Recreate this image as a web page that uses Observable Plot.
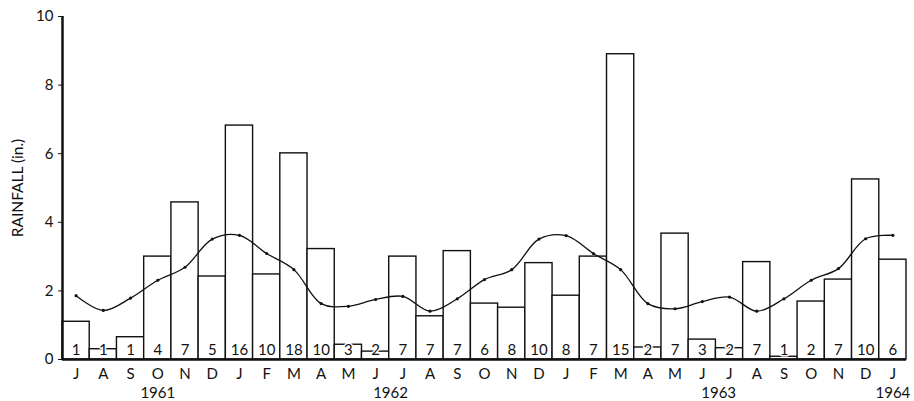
<!DOCTYPE html>
<html>
<head>
<meta charset="utf-8">
<script src="https://cdn.jsdelivr.net/npm/d3@7"></script>
<script src="https://cdn.jsdelivr.net/npm/@observablehq/plot@0.6"></script>
<style>
  html, body { margin: 0; padding: 0; background: #fff; }
  #chart svg { display: block; }
</style>
</head>
<body>
<div id="chart"></div>
<script>
// Months July 1961 – January 1964
const months = ["J","A","S","O","N","D","J","F","M","A","M","J","J","A","S","O","N","D","J","F","M","A","M","J","J","A","S","O","N","D","J"];
// Monthly rainfall (in.)
const rainfall = [1.1,0.3,0.65,3.0,4.58,2.42,6.82,2.48,6.01,3.22,0.43,0.23,3.0,1.26,3.16,1.63,1.51,2.81,1.86,3.0,8.9,0.35,3.67,0.58,0.33,2.84,0.08,1.69,2.33,5.25,2.91];
// Number of rain days
const rainDays = [1,1,1,4,7,5,16,10,18,10,3,2,7,7,7,6,8,10,8,7,15,2,7,3,2,7,1,2,7,10,6];
// Long-term mean monthly rainfall (in.)
const meanRain = [1.86,1.43,1.79,2.31,2.69,3.51,3.62,3.09,2.62,1.63,1.55,1.75,1.84,1.41,1.77,2.33,2.62,3.51,3.61,3.09,2.62,1.63,1.48,1.69,1.82,1.41,1.77,2.31,2.65,3.52,3.62];
// Year labels (position in month units)
const yearLabels = [
  {year: "1961", pos: 3.5},
  {year: "1962", pos: 12.05},
  {year: "1963", pos: 24.1},
  {year: "1964", pos: 30.5}
];
const yTicks = [0,2,4,6,8,10];
const yLabel = "RAINFALL (in.)";

const data = months.map((m, i) => ({i, m, rain: rainfall[i], days: rainDays[i], mean: meanRain[i]}));

const font = "Lato, 'DejaVu Sans', sans-serif";

const chart = Plot.plot({
  width: 914,
  height: 401,
  marginLeft: 62,
  marginRight: 8,
  marginTop: 16,
  marginBottom: 42,
  style: {fontFamily: font, fontSize: "14px", color: "#111", background: "#fff"},
  x: {type: "linear", domain: [0, 31]},
  y: {domain: [0, 10]},
  marks: [
    Plot.rectY(data, {x1: d => d.i, x2: d => d.i + 1, y: "rain", fill: "white", stroke: "#111", strokeWidth: 1.4}),
    Plot.text(data, {x: d => d.i + 0.5, y: 0, text: d => String(d.days), dy: -9, fontSize: 15, fill: "#111", stroke: "white", strokeWidth: 3, paintOrder: "stroke"}),
    Plot.line(data, {x: d => d.i + 0.5, y: "mean", curve: "catmull-rom", stroke: "#111", strokeWidth: 1.3}),
    Plot.dot(data, {x: d => d.i + 0.5, y: "mean", r: 1.6, fill: "#111", stroke: "none"}),
    Plot.ruleY([0], {stroke: "#111", strokeWidth: 2.5}),
    Plot.ruleX([0], {stroke: "#111", strokeWidth: 2.5}),
    Plot.axisY({ticks: yTicks, tickSize: 4, tickPadding: 5, fontSize: 15, label: null}),
    Plot.text([yLabel], {frameAnchor: "left", textAnchor: "middle", text: d => d, rotate: -90, dx: -44, fontSize: 15.5, fill: "#111", letterSpacing: "0.5px"}),
    Plot.axisX({ticks: data.map(d => d.i + 0.5), tickFormat: (d) => months[Math.round(d - 0.5)], tickSize: 0, tickPadding: 9, fontSize: 15, label: null}),
    Plot.text(yearLabels, {x: "pos", y: 0, text: "year", dy: 34, fontSize: 15, fill: "#111"})
  ]
});
document.getElementById("chart").appendChild(chart);
</script>
</body>
</html>
